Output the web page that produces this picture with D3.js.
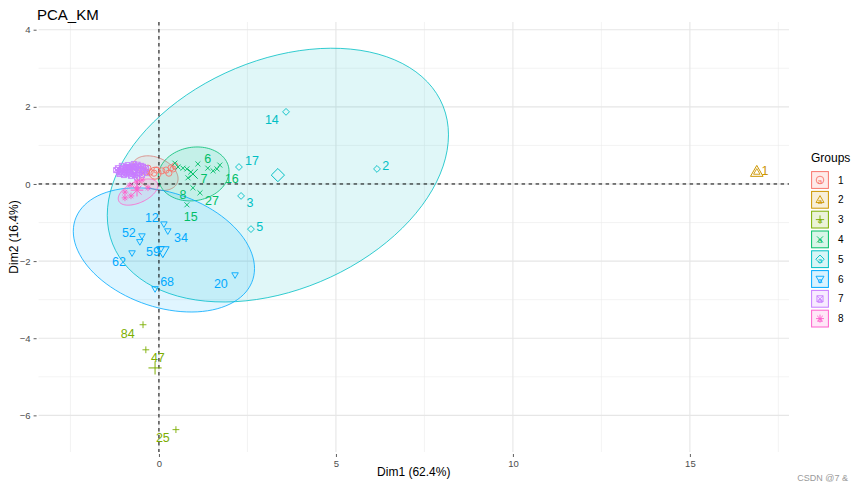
<!DOCTYPE html>
<html><head><meta charset="utf-8">
<script src="https://cdn.jsdelivr.net/npm/d3@7"></script>
<style>body{margin:0;background:#fff}svg{display:block;font-family:Arial,"Liberation Sans",sans-serif}</style>
</head><body><svg id="c" width="865" height="488"></svg>
<script>
// ---------- data ----------
const chartTitle = "PCA_KM";
const xTitle = "Dim1 (62.4%)";
const yTitle = "Dim2 (16.4%)";
const groups = ["1","2","3","4","5","6","7","8"];
const groupColors = ["#F8766D","#CD9600","#7CAE00","#00BE67","#00BFC4","#00A9FF","#C77CFF","#FF61CC"];
const xTicks = [0,5,10,15];
const yTicks = [-6,-4,-2,0,2,4];
const xMinor = [-2.5,2.5,7.5,12.5,17.5];
const yMinor = [-5,-3,-1,1,3];
const xDomain = [-3.4,17.8];
const yDomain = [-6.95,4.2];

// each point: [Dim1, Dim2, label, labelDim1, labelDim2]
const cluster1 = [[-0.25,0.31],[-0.14,0.28],[-0.06,0.36],[0.08,0.34],[0.28,0.28],[0.40,0.39],[0.45,0.47],[-0.37,0.31],[-0.48,0.36],[-0.31,0.41],[0.20,0.36],[0.34,0.42]];
const cluster2 = [[16.89,0.31,"1",17.12,0.36]];
const cluster3 = [[-0.45,-3.65,"84",-0.88,-3.89],[-0.37,-4.30,"47",-0.03,-4.51],[0.48,-6.37,"25",0.11,-6.58]];
const cluster4 = [[0.45,0.54],[0.54,0.44],[0.68,0.41],[0.79,0.39],[0.90,0.31,"7",1.27,0.13],[1.10,0.52],[0.82,0.16],
  [1.38,0.41,"6",1.38,0.67],[1.53,0.34],[1.64,0.39],[1.72,0.49,"16",2.06,0.13],[0.96,-0.10,"8",0.68,-0.26],
  [1.16,-0.23,"27",1.50,-0.44],[0.79,-0.54,"15",0.90,-0.85]];
const cluster5 = [[3.59,1.87,"14",3.19,1.66],[2.26,0.44,"17",2.63,0.60],[6.16,0.39,"2",6.41,0.47],[2.32,-0.31,"3",2.57,-0.47],[2.60,-1.17,"5",2.85,-1.09]];
const cluster6 = [[0.14,-1.04,"12",-0.20,-0.88],[0.25,-1.22,"34",0.62,-1.40],[-0.48,-1.35,"52",-0.85,-1.27],[-0.54,-1.50],
  [-0.76,-1.79,"62",-1.13,-2.00],[0.06,-1.68,"59",-0.17,-1.74],[-0.11,-2.72,"68",0.23,-2.54],[2.15,-2.36,"20",1.75,-2.57]];
const cluster7 = [[-1.16,0.41],[-1.05,0.47],[-0.96,0.36],[-0.88,0.49],[-0.82,0.39],[-0.73,0.31],[-0.65,0.44],[-0.59,0.36],
  [-0.51,0.47],[-0.42,0.34],[-0.37,0.41],[-1.10,0.31],[-0.99,0.23],[-0.90,0.28],[-0.79,0.21],[-0.68,0.23],[-0.56,0.28],
  [-0.48,0.23],[-0.34,0.28],[-1.21,0.36],[-0.71,0.52],[-0.85,0.36],[-0.62,0.16],[-0.93,0.44],[-1.02,0.40],[-0.77,0.45],
  [-0.60,0.50],[-1.12,0.26],[-0.70,0.36],[-0.54,0.40],[-0.45,0.45],[-0.95,0.30],[-1.07,0.34],[-0.87,0.42]];
const cluster8 = [[-0.96,-0.21],[-0.79,-0.31],[-0.96,-0.36],[-0.62,-0.10],[-0.31,-0.10],[-0.62,0.05],[-0.48,0.10],[-0.82,-0.03]];
const clusterPoints = [cluster1,cluster2,cluster3,cluster4,cluster5,cluster6,cluster7,cluster8];

// cluster centers [Dim1, Dim2]
const centers = [[-0.11,0.28],[16.89,0.31],[-0.11,-4.77],[0.96,0.26],[3.36,0.23],[0.11,-1.74],[-0.79,0.36],[-0.62,-0.16]];

// ellipses: [group index, centerDim1, centerDim2, halfWidthDim1, halfHeightDim2, correlation]
const ellipses = [
  [0,-0.11,0.28,0.65,0.45,-0.32],
  [3,0.98,0.26,1.00,0.70,0.10],
  [4,3.36,0.23,4.82,3.29,0.317],
  [5,0.14,-1.71,2.56,1.61,-0.30],
  [6,-0.76,0.36,0.46,0.17,0.30],
  [7,-0.59,-0.21,0.56,0.34,0.50]
];
const watermark = "CSDN @7 &";

// ---------- drawing ----------
const svg = d3.select("#c");
const P = {l:38.6, r:789, t:22, b:452};
const x = d3.scaleLinear().domain(xDomain).range([P.l,P.r]);
const y = d3.scaleLinear().domain(yDomain).range([P.b,P.t]);

// grid
const grid = svg.append("g");
grid.selectAll(".vm").data(xMinor).join("line").attr("x1",d=>x(d)).attr("x2",d=>x(d)).attr("y1",P.t).attr("y2",P.b).attr("stroke","#EBEBEB").attr("stroke-width",0.6);
grid.selectAll(".hm").data(yMinor).join("line").attr("y1",d=>y(d)).attr("y2",d=>y(d)).attr("x1",P.l).attr("x2",P.r).attr("stroke","#EBEBEB").attr("stroke-width",0.6);
grid.selectAll(".vM").data(xTicks).join("line").attr("x1",d=>x(d)).attr("x2",d=>x(d)).attr("y1",P.t).attr("y2",P.b).attr("stroke","#E6E6E6").attr("stroke-width",1.1);
grid.selectAll(".hM").data(yTicks).join("line").attr("y1",d=>y(d)).attr("y2",d=>y(d)).attr("x1",P.l).attr("x2",P.r).attr("stroke","#E6E6E6").attr("stroke-width",1.1);

// axes via d3 axes
const xAxis = d3.axisBottom(x).tickValues(xTicks).tickSize(3).tickPadding(3).tickFormat(d3.format("d"));
const yAxis = d3.axisLeft(y).tickValues(yTicks).tickSize(3).tickPadding(3).tickFormat(d3.format("d"));
const gx = svg.append("g").attr("transform",`translate(0,${P.b+2})`).call(xAxis);
const gy = svg.append("g").attr("transform",`translate(${P.l-2},0)`).call(yAxis);
[gx,gy].forEach(g=>{
  g.select(".domain").remove();
  g.selectAll(".tick line").attr("stroke","#333").attr("stroke-width",0.8);
  g.selectAll(".tick text").attr("fill","#4D4D4D").attr("font-size",9.5).attr("font-family","Arial,'Liberation Sans',sans-serif");
});

// ellipses
const ellG = svg.append("g");
ellipses.forEach(([g,cx,cy,rx,ry,rho])=>{
  const pts = d3.range(0,101).map(i=>{
    const t = i/100*2*Math.PI;
    return [x(cx+rx*Math.cos(t)), y(cy+ry*(rho*Math.cos(t)+Math.sqrt(1-rho*rho)*Math.sin(t)))];
  });
  ellG.append("path").attr("d",d3.line()(pts)+"Z")
    .attr("fill",groupColors[g]).attr("fill-opacity",0.12)
    .attr("stroke",groupColors[g]).attr("stroke-width",0.8);
});

// reference dashed lines
svg.append("line").attr("x1",P.l).attr("x2",P.r).attr("y1",y(0)).attr("y2",y(0)).attr("stroke","#000").attr("stroke-width",1).attr("stroke-dasharray","3.5,3.5");
svg.append("line").attr("x1",x(0)).attr("x2",x(0)).attr("y1",P.t).attr("y2",P.b).attr("stroke","#000").attr("stroke-width",1).attr("stroke-dasharray","3.5,3.5");

// shape paths (ggplot shapes 1..8)
function shapePath(k,s){
  switch(k){
    case 0: return `M${s},0A${s},${s} 0 1,1 ${-s},0A${s},${s} 0 1,1 ${s},0Z`;
    case 1: return `M0,${-s*1.1}L${s*1.05},${s*0.72}L${-s*1.05},${s*0.72}Z`;
    case 2: return `M${-s*1.1},0H${s*1.1}M0,${-s*1.1}V${s*1.1}`;
    case 3: return `M${-s*0.8},${-s*0.8}L${s*0.8},${s*0.8}M${-s*0.8},${s*0.8}L${s*0.8},${-s*0.8}`;
    case 4: return `M0,${-s*1.1}L${s*1.1},0L0,${s*1.1}L${-s*1.1},0Z`;
    case 5: return `M0,${s*1.1}L${s*1.05},${-s*0.72}L${-s*1.05},${-s*0.72}Z`;
    case 6: return `M${-s*0.8},${-s*0.8}H${s*0.8}V${s*0.8}H${-s*0.8}Z M${-s*0.8},${-s*0.8}L${s*0.8},${s*0.8}M${-s*0.8},${s*0.8}L${s*0.8},${-s*0.8}`;
    case 7: return `M${-s*1.05},0H${s*1.05}M0,${-s*1.05}V${s*1.05}M${-s*0.75},${-s*0.75}L${s*0.75},${s*0.75}M${-s*0.75},${s*0.75}L${s*0.75},${-s*0.75}`;
  }
}

const ptG = svg.append("g");
clusterPoints.forEach((arr,g)=>{
  ptG.selectAll(null).data(arr).join("path")
    .attr("transform",d=>`translate(${x(d[0])},${y(d[1])})`)
    .attr("d",shapePath(g,3.1)).attr("fill","none")
    .attr("stroke",groupColors[g]).attr("stroke-width",0.9);
});
// labels
clusterPoints.forEach((arr,g)=>{
  ptG.selectAll(null).data(arr.filter(d=>d[2])).join("text")
    .attr("x",d=>x(d[3])).attr("y",d=>y(d[4]))
    .attr("text-anchor","middle").attr("dy","0.36em")
    .attr("font-size",12.5).attr("fill",groupColors[g]).text(d=>d[2]);
});
// centers
ptG.selectAll(null).data(centers).join("path")
  .attr("transform",d=>`translate(${x(d[0])},${y(d[1])})`)
  .attr("d",(d,i)=>shapePath(i,6)).attr("fill","none")
  .attr("stroke",(d,i)=>groupColors[i]).attr("stroke-width",1);

// titles
svg.append("text").attr("x",37).attr("y",20).attr("font-size",15).attr("fill","#000").text(chartTitle);
svg.append("text").attr("x",(P.l+P.r)/2).attr("y",476).attr("text-anchor","middle").attr("font-size",12).attr("fill","#000").text(xTitle);
svg.append("text").attr("transform",`translate(18,${(P.t+P.b)/2}) rotate(-90)`).attr("text-anchor","middle").attr("font-size",12).attr("fill","#000").text(yTitle);

// legend
const lg = svg.append("g").attr("transform","translate(811,0)");
lg.append("text").attr("x",0).attr("y",162).attr("font-size",12).attr("fill","#000").text("Groups");
groups.forEach((gname,i)=>{
  const cy = 180 + i*19.8;
  const k = lg.append("g").attr("transform",`translate(9,${cy})`);
  k.append("rect").attr("x",-8.4).attr("y",-8.4).attr("width",16.8).attr("height",16.8)
    .attr("fill",groupColors[i]).attr("fill-opacity",0.15).attr("stroke",groupColors[i]).attr("stroke-width",1);
  k.append("path").attr("d",shapePath(i,3.8)).attr("fill","none").attr("stroke",groupColors[i]).attr("stroke-width",0.9);
  k.append("text").attr("x",0).attr("y",3.8).attr("text-anchor","middle").attr("font-size",8).attr("fill",groupColors[i]).text("a");
  lg.append("text").attr("x",27).attr("y",cy).attr("dy","0.35em").attr("font-size",10).attr("fill","#000").text(gname);
});

svg.append("text").attr("x",848).attr("y",481).attr("text-anchor","end").attr("font-size",9).attr("fill","#9a9a9a").text(watermark);
</script></body></html>
